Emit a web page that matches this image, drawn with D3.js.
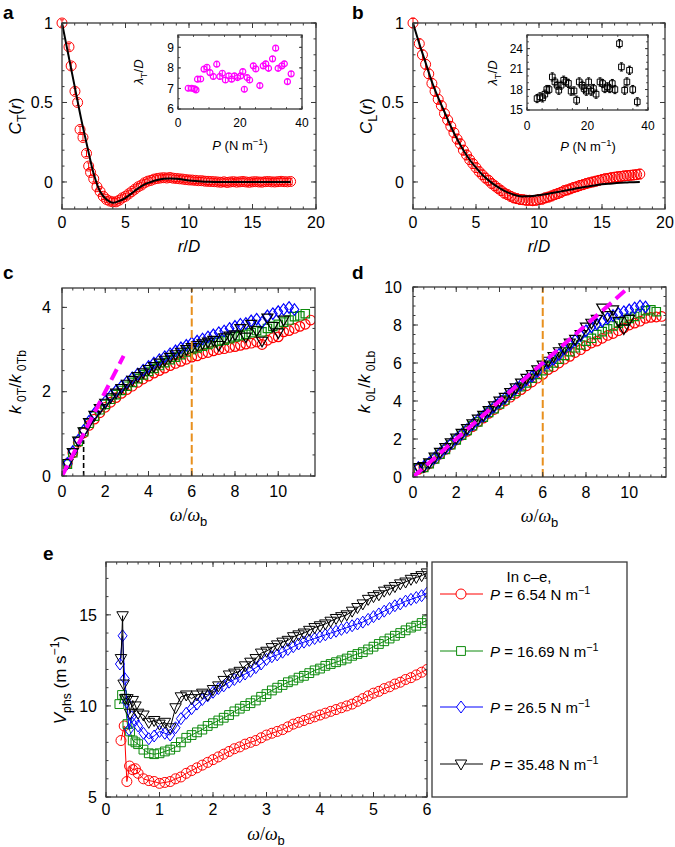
<!DOCTYPE html>
<html>
<head>
<meta charset="utf-8">
<script src="https://cdn.jsdelivr.net/npm/d3@7"></script>
<style>
  body { margin: 0; background: #fff; }
  svg { font-family: "Liberation Sans", Arial, Helvetica, sans-serif; }
</style>
</head>
<body>
<svg id="fig" width="675" height="847"></svg>
<script>
/* ── data ─────────────────────────────────────────────────── */
// panel a: C_T(r), first points irregular, then r = 2.25 … 18 every 0.25
const aHeadR = [0, 0.55, 0.72, 1.02, 1.23, 1.42, 1.65, 1.93, 2.1];
const aHeadC = [1.0, 0.85, 0.73, 0.57, 0.5, 0.33, 0.28, 0.18, 0.1];
const aTailC = [0.06, 0.02, -0.03, -0.06, -0.09, -0.11, -0.12, -0.125, -0.125, -0.115,
  -0.10, -0.09, -0.075, -0.06, -0.045, -0.03, -0.02, -0.005, 0.005, 0.01,
  0.018, 0.022, 0.025, 0.027, 0.025, 0.028, 0.024, 0.022, 0.02, 0.018,
  0.015, 0.013, 0.012, 0.01, 0.008, 0.008, 0.005, 0.004, 0.003, 0.002,
  0.0, -0.002, 0.001, -0.003, 0.0, 0.002, -0.001, 0.001, 0.003, 0.0,
  -0.002, 0.001, 0.002, 0.0, -0.001, 0.002, 0.003, 0.001, 0.0, 0.002,
  0.004, 0.002, 0.001, 0.003];
// fit, r = 0 … 18 every 0.5
const aFit = [1.0, 0.8, 0.6, 0.4, 0.22, 0.05, -0.06, -0.11, -0.13, -0.12, -0.1, -0.07,
  -0.04, -0.015, 0.0, 0.012, 0.02, 0.022, 0.02, 0.016, 0.01, 0.006, 0.003, 0.001,
  0, 0, 0, 0, 0, 0, 0, 0, 0, 0, 0, 0, 0];
const aErr = 0.02;

// panel b: C_L(r), r = 0 then 0.5 … 18 every 0.25
const bC = [1.0, 0.87, 0.8, 0.74, 0.68, 0.62, 0.57, 0.52, 0.48, 0.43, 0.39,
  0.35, 0.31, 0.27, 0.24, 0.2, 0.17, 0.14, 0.115, 0.09, 0.065,
  0.045, 0.025, 0.01, -0.01, -0.025, -0.04, -0.055, -0.07, -0.08, -0.09,
  -0.1, -0.105, -0.11, -0.112, -0.115, -0.115, -0.118, -0.115, -0.11, -0.108,
  -0.1, -0.095, -0.088, -0.08, -0.073, -0.065, -0.055, -0.05, -0.043, -0.035,
  -0.03, -0.022, -0.017, -0.01, -0.005, 0.0, 0.005, 0.01, 0.015, 0.02,
  0.023, 0.027, 0.03, 0.033, 0.035, 0.038, 0.04, 0.042, 0.044, 0.046, 0.05];
const bFit = [1.0, 0.87, 0.75, 0.63, 0.53, 0.44, 0.35, 0.27, 0.2, 0.14, 0.09, 0.045,
  0.01, -0.02, -0.045, -0.065, -0.08, -0.09, -0.09, -0.088, -0.083, -0.077, -0.07,
  -0.063, -0.055, -0.048, -0.04, -0.033, -0.027, -0.02, -0.015, -0.011, -0.008,
  -0.005, -0.003, -0.001, 0.0];
const bErr = 0.03;

// insets: λ/D against P (N m^-1)
const insAP = [3.3, 4.4, 5.3, 5.8, 6.3, 7.3, 8.4, 9.35, 10.3, 11.4, 12.5, 13.5, 14.3, 15.3,
  16.4, 17.3, 18.2, 19.2, 20.2, 20.9, 21.4, 22.3, 23.1, 24.3, 25.1, 26.4, 27.5, 28.3,
  29.2, 30.5, 31.5, 32.3, 33.5, 34.3, 35.3, 36.5];
const insAL = [7.01, 7.01, 6.98, 6.93, 7.45, 7.46, 7.94, 8.03, 7.77, 7.58, 8.18, 7.58, 7.74, 7.41,
  7.61, 7.45, 7.61, 7.53, 7.61, 7.82, 6.96, 7.53, 7.41, 8.1, 7.95, 7.14, 8.1, 8.2,
  7.98, 8.44, 8.96, 7.98, 8.1, 8.2, 7.33, 7.71];
const insBP = [3.32, 4.29, 5.15, 5.9, 6.54, 7.29, 8.36, 9.22, 9.97, 10.51, 11.26, 12.12, 12.87,
  13.7, 14.58, 15.55, 16.41, 17.27, 18.23, 18.87, 19.62, 20.38, 21.23, 21.98, 22.84, 24.13,
  24.99, 25.74, 26.6, 27.35, 28.2, 29.06, 30.56, 31.21, 32.28, 33.03, 33.89, 34.96, 36.46];
const insBL = [16.68, 16.93, 16.78, 17.32, 18.0, 18.0, 19.85, 19.12, 18.63, 17.9, 18.63, 19.37, 19.12,
  18.9, 17.76, 17.8, 16.44, 19.12, 18.63, 18.15, 17.76, 19.12, 17.76, 18.15, 17.32, 19.12,
  18.88, 18.15, 18.39, 18.15, 18.88, 18.0, 24.73, 21.32, 17.9, 19.12, 20.83, 18.0, 16.2];
const insAErr = 0.12, insBErr = 0.6;

// panels c, d: k/kb at ω/ωb = 0.25, 0.5, … (every 0.25)
const cRed = [0.3, 0.55, 0.8, 1.02, 1.2, 1.35, 1.5, 1.63, 1.75, 1.86, 1.96, 2.05, 2.13, 2.22, 2.3,
  2.37, 2.44, 2.5, 2.56, 2.62, 2.67, 2.72, 2.77, 2.82, 2.85, 2.9, 2.93, 2.97, 3.0, 3.02,
  3.05, 3.07, 3.1, 3.13, 3.15, 3.18, 3.12, 3.22, 3.28, 3.3, 3.42, 3.45, 3.5, 3.55, 3.6, 3.7];
const cGreen = [0.28, 0.55, 0.82, 1.05, 1.25, 1.42, 1.57, 1.7, 1.82, 1.93, 2.03, 2.13, 2.22, 2.31, 2.4,
  2.48, 2.55, 2.62, 2.69, 2.76, 2.82, 2.88, 2.94, 3.0, 3.04, 3.08, 3.12, 3.16, 3.2, 3.22,
  3.26, 3.3, 3.33, 3.36, 3.4, 3.45, 3.42, 3.5, 3.55, 3.6, 3.65, 3.7, 3.78, 3.8, 3.85];
const cBlue = [0.3, 0.58, 0.85, 1.08, 1.3, 1.48, 1.63, 1.77, 1.9, 2.02, 2.13, 2.23, 2.33, 2.42, 2.51,
  2.6, 2.68, 2.76, 2.83, 2.9, 2.97, 3.04, 3.1, 3.16, 3.2, 3.25, 3.3, 3.35, 3.4, 3.44,
  3.5, 3.55, 3.6, 3.62, 3.68, 3.72, 3.65, 3.8, 3.85, 3.9, 3.95, 4.0, 3.95];
const cBlack = [0.3, 0.56, 0.83, 1.05, 1.27, 1.44, 1.6, 1.73, 1.86, 1.97, 2.08, 2.18, 2.27, 2.36, 2.45,
  2.53, 2.6, 2.68, 2.75, 2.82, 2.88, 2.94, 3.0, 3.05, 3.1, 3.14, 3.18, 3.22, 3.1, 3.28,
  3.32, 3.35, 3.5, 3.3, 3.6, 3.45, 3.2, 3.75, 3.55, 3.4, 3.7];
const dRed = [0.4, 0.5, 0.7, 0.95, 1.2, 1.45, 1.7, 1.95, 2.2, 2.4, 2.65, 2.9, 3.1, 3.35, 3.55,
  3.8, 4.0, 4.2, 4.4, 4.6, 4.8, 5.0, 5.2, 5.4, 5.65, 5.8, 6.0, 6.2, 6.35, 6.55,
  6.7, 6.9, 7.05, 7.15, 7.3, 7.45, 7.55, 7.7, 7.85, 8.0, 8.1, 8.2, 8.35, 8.4, 8.42, 8.45];
const dGreen = [0.45, 0.5, 0.7, 0.95, 1.2, 1.45, 1.7, 1.95, 2.2, 2.45, 2.7, 2.9, 3.15, 3.4, 3.6,
  3.85, 4.05, 4.3, 4.5, 4.75, 4.95, 5.2, 5.4, 5.6, 5.8, 6.0, 6.2, 6.4, 6.6, 6.8,
  6.95, 7.15, 7.3, 7.5, 7.65, 7.8, 7.95, 8.1, 8.2, 8.35, 8.45, 8.6, 8.75, 8.8, 8.7];
const dBlue = [0.5, 0.55, 0.75, 1.0, 1.25, 1.5, 1.75, 2.0, 2.25, 2.5, 2.75, 3.0, 3.2, 3.45, 3.7,
  3.95, 4.15, 4.4, 4.65, 4.85, 5.1, 5.3, 5.55, 5.8, 6.0, 6.2, 6.45, 6.75, 6.95, 7.2,
  7.45, 7.7, 7.9, 8.05, 8.2, 8.35, 8.5, 8.6, 8.7, 8.8, 8.9, 9.0, 8.95];
const dBlack = [0.5, 0.55, 0.75, 1.05, 1.3, 1.55, 1.8, 2.05, 2.3, 2.55, 2.8, 3.05, 3.25, 3.5, 3.75,
  4.0, 4.2, 4.45, 4.7, 4.95, 5.2, 5.4, 5.65, 5.9, 6.1, 6.35, 6.6, 6.8, 7.05, 7.25,
  7.5, 7.9, 8.1, 8.3, 8.9, 8.5, 8.8, 8.2, 7.8, 8.3];
const cLine = [[0, 0], [2.85, 2.85]];
const dLine = [[0, 0], [10, 10]];

// panel e: V_phs, irregular first points [ω, V], then ω = 0.6 … 6.0 every 0.1
const eRedHead = [[0.28, 8.1], [0.34, 8.9], [0.39, 5.85], [0.44, 6.7], [0.5, 6.5], [0.55, 6.55]];
const eRedTail = [6.3, 6.0, 5.9, 5.85, 5.75, 5.8, 5.85, 6.0, 6.1, 6.3, 6.45, 6.6, 6.75, 6.9, 7.05,
  7.2, 7.35, 7.5, 7.65, 7.75, 7.9, 8.0, 8.1, 8.25, 8.4, 8.5, 8.6, 8.7, 8.85, 9.0,
  9.1, 9.2, 9.3, 9.4, 9.5, 9.6, 9.7, 9.8, 9.9, 10.0, 10.1, 10.25, 10.4, 10.55, 10.7,
  10.8, 10.95, 11.05, 11.2, 11.3, 11.45, 11.55, 11.7, 11.85, 12.0];
const eGreenHead = [[0.25, 10.1], [0.3, 10.6], [0.35, 10.4], [0.4, 9.0], [0.45, 8.6], [0.5, 8.1], [0.55, 8.0]];
const eGreenTail = [7.9, 7.6, 7.4, 7.35, 7.4, 7.5, 7.6, 7.75, 8.0, 8.25, 8.4, 8.55, 8.7, 8.9, 9.05,
  9.2, 9.35, 9.5, 9.7, 9.85, 10.0, 10.15, 10.3, 10.5, 10.65, 10.85, 11.0, 11.15, 11.3, 11.4,
  11.55, 11.65, 11.8, 11.95, 12.05, 12.2, 12.3, 12.4, 12.5, 12.6, 12.75, 12.85, 12.95, 13.1, 13.25,
  13.4, 13.55, 13.7, 13.85, 14.0, 14.15, 14.3, 14.4, 14.55, 14.7];
const eBlueHead = [[0.26, 12.3], [0.31, 13.85], [0.35, 11.5], [0.39, 10.2], [0.43, 8.7], [0.48, 9.4], [0.54, 9.2]];
const eBlueTail = [8.9, 8.5, 8.2, 8.35, 8.6, 8.5, 8.4, 8.8, 9.3, 9.6, 9.85, 10.1, 10.35, 10.55, 10.75,
  10.95, 11.1, 11.3, 11.45, 11.6, 11.75, 11.9, 12.1, 12.3, 12.55, 12.7, 12.8, 12.95, 13.1, 13.25,
  13.4, 13.5, 13.6, 13.7, 13.8, 13.9, 14.0, 14.1, 14.2, 14.3, 14.4, 14.5, 14.6, 14.75, 14.9,
  15.05, 15.2, 15.35, 15.5, 15.6, 15.75, 15.85, 15.95, 16.05, 16.2];
const eBlackHead = [[0.28, 12.6], [0.31, 14.95], [0.33, 11.2], [0.36, 10.4], [0.4, 10.4], [0.45, 9.6], [0.5, 10.3], [0.55, 10.0]];
const eBlackTail = [9.6, 9.5, 9.1, 9.2, 9.0, 9.1, 8.8, 9.9, 10.5, 10.6, 10.4, 10.6, 10.7, 10.6, 10.9,
  11.1, 11.4, 11.7, 11.8, 11.9, 12.2, 12.4, 12.6, 12.9, 13.0, 13.2, 13.35, 13.5, 13.6, 13.8,
  13.9, 14.0, 14.15, 14.3, 14.4, 14.5, 14.65, 14.8, 14.9, 15.0, 15.2, 15.4, 15.6, 15.85, 16.0,
  16.1, 16.3, 16.4, 16.55, 16.7, 16.8, 16.95, 17.05, 17.15, 17.3];

const legendP = ["6.54", "16.69", "26.5", "35.48"];

/* ── styling ──────────────────────────────────────────────── */
const RED = "#ff0000", GREEN = "#0c8a0c", BLUE = "#0000ff", BLACK = "#000000";
const MAGENTA = "#ff00ff", ORANGE = "#e8901e", FRAME = "#3a3a3a";
const SERIF = '"Liberation Serif", "Times New Roman", serif';
const series = [
  { color: RED, shape: "circle" },
  { color: GREEN, shape: "square" },
  { color: BLUE, shape: "diamond" },
  { color: BLACK, shape: "tri" }
];

const svg = d3.select("#fig");

const shapes = {
  circle: r => `M${r},0A${r},${r} 0 1,1 ${-r},0A${r},${r} 0 1,1 ${r},0Z`,
  square: r => `M${-r},${-r}H${r}V${r}H${-r}Z`,
  diamond: r => `M0,${-r * 1.2}L${r * 0.9},0L0,${r * 1.2}L${-r * 0.9},0Z`,
  tri: r => `M${-r * 1.15},${-r * 0.8}H${r * 1.15}L0,${r * 1.2}Z`
};

function panel(box, xd, yd) {
  return {
    box,
    x: d3.scaleLinear().domain(xd).range([box.l, box.r]),
    y: d3.scaleLinear().domain(yd).range([box.b, box.t])
  };
}

function stepVals(dom, step) {
  const a = Math.ceil(dom[0] / step - 1e-6), b = Math.floor(dom[1] / step + 1e-6);
  return d3.range(a, b + 1).map(i => +(i * step).toFixed(6));
}

// inward ticks on all four sides + frame + labels
function frame(g, p, o) {
  const { l, r, t, b } = p.box;
  const big = o.big || 5, small = o.small || 2.5;
  const tk = g.append("g").attr("stroke", FRAME).attr("stroke-width", 1);
  const xs = [...o.xMaj.map(v => [v, big]), ...stepVals(p.x.domain(), o.xMin).map(v => [v, small])];
  const ys = [...o.yMaj.map(v => [v, big]), ...stepVals(p.y.domain(), o.yMin).map(v => [v, small])];
  xs.forEach(([v, len]) => {
    const X = p.x(v);
    tk.append("line").attr("x1", X).attr("x2", X).attr("y1", b).attr("y2", b - len);
    tk.append("line").attr("x1", X).attr("x2", X).attr("y1", t).attr("y2", t + len);
  });
  ys.forEach(([v, len]) => {
    const Y = p.y(v);
    tk.append("line").attr("y1", Y).attr("y2", Y).attr("x1", l).attr("x2", l + len);
    tk.append("line").attr("y1", Y).attr("y2", Y).attr("x1", r).attr("x2", r - len);
  });
  g.append("rect").attr("x", l).attr("y", t).attr("width", r - l).attr("height", b - t)
    .attr("fill", "none").attr("stroke", FRAME).attr("stroke-width", 1.3);
  const fs = o.fs || 16;
  g.append("g").selectAll("text").data(o.xMaj).join("text")
    .attr("x", d => p.x(d)).attr("y", b + o.xOff).attr("text-anchor", "middle")
    .style("font-size", fs + "px").text(o.xFmt || (d => d));
  g.append("g").selectAll("text").data(o.yMaj).join("text")
    .attr("x", l - o.yOff).attr("y", d => p.y(d)).attr("dy", "0.36em").attr("text-anchor", "end")
    .style("font-size", fs + "px").text(o.yFmt || (d => d));
}

function clipFor(id, p) {
  const { l, r, t, b } = p.box;
  svg.append("clipPath").attr("id", id).append("rect")
    .attr("x", l).attr("y", t).attr("width", r - l).attr("height", b - t);
  return `url(#${id})`;
}

function markers(g, pts, p, shape, size, color, sw) {
  g.append("g").selectAll("path").data(pts).join("path")
    .attr("d", shapes[shape](size))
    .attr("transform", d => `translate(${p.x(d[0])},${p.y(d[1])})`)
    .attr("fill", "none").attr("stroke", color).attr("stroke-width", sw || 1);
}

function errorBars(g, pts, p, err, color, cap) {
  const eb = g.append("g").attr("stroke", color).attr("stroke-width", 1);
  pts.forEach(d => {
    const X = p.x(d[0]), y1 = p.y(d[1] - err), y2 = p.y(d[1] + err);
    eb.append("line").attr("x1", X).attr("x2", X).attr("y1", y1).attr("y2", y2);
    eb.append("line").attr("x1", X - cap).attr("x2", X + cap).attr("y1", y1).attr("y2", y1);
    eb.append("line").attr("x1", X - cap).attr("x2", X + cap).attr("y1", y2).attr("y2", y2);
  });
}

// rich text: parts = [[text, {italic, sub, sup, serif}]]
function rich(g, x, y, parts, fs, opts) {
  const t = g.append("text").attr("x", x).attr("y", y).style("font-size", fs + "px")
    .attr("text-anchor", (opts && opts.anchor) || "middle");
  if (opts && opts.rotate) t.attr("transform", `rotate(-90,${x},${y})`);
  let shift = 0;
  parts.forEach(([s, f]) => {
    f = f || {};
    const target = f.sub ? fs * 0.3 : f.sup ? -fs * 0.4 : 0;
    const ts = t.append("tspan").text(s).attr("dy", target - shift);
    shift = target;
    if (f.italic) ts.style("font-style", "italic");
    if (f.serif) ts.style("font-family", SERIF);
    if (f.sub || f.sup) ts.style("font-size", (fs * 0.72) + "px");
  });
  return t;
}

function panelLetter(x, y, s) {
  svg.append("text").attr("x", x).attr("y", y).style("font-size", "19px")
    .style("font-weight", "bold").text(s);
}

const omegaLabel = [["ω", { italic: true, serif: true }], ["/", { serif: true }], ["ω", { italic: true, serif: true }], ["b", { sub: true }]];
const lineGen = (p) => d3.line().x(d => p.x(d[0])).y(d => p.y(d[1]));

/* ── panel a ──────────────────────────────────────────────── */
{
  const p = panel({ l: 62, r: 316, t: 23, b: 209 }, [0, 20], [-0.17, 1]);
  const g = svg.append("g");
  const pts = aHeadR.map((r, i) => [r, aHeadC[i]])
    .concat(aTailC.map((c, i) => [2.25 + 0.25 * i, c]));
  const fit = aFit.map((c, i) => [0.5 * i, c]);
  errorBars(g, pts, p, aErr, RED, 2);
  markers(g, pts, p, "circle", 5, RED, 1);
  g.append("path").datum(fit).attr("d", lineGen(p).curve(d3.curveCatmullRom))
    .attr("fill", "none").attr("stroke", BLACK).attr("stroke-width", 2);
  frame(g, p, { xMaj: [0, 5, 10, 15, 20], xMin: 1, yMaj: [0, 0.5, 1], yMin: 0.1, xOff: 19, yOff: 9 });
  rich(g, 21, 116, [["C", { italic: true }], ["T", { sub: true }], ["("], ["r", { italic: true }], [")"]], 17, { rotate: true });
  rich(g, 189, 252, [["r", { italic: true }], ["/"], ["D", { italic: true }]], 17);

  // inset
  const q = panel({ l: 178, r: 302, t: 35, b: 109 }, [0, 40], [6, 9.6]);
  const gi = g.append("g");
  gi.append("rect").attr("x", 178).attr("y", 35).attr("width", 124).attr("height", 74).attr("fill", "#fff");
  const ip = insAP.map((v, i) => [v, insAL[i]]);
  errorBars(gi, ip, q, insAErr, MAGENTA, 1.5);
  markers(gi, ip, q, "circle", 3, MAGENTA, 1.2);
  frame(gi, q, { xMaj: [0, 20, 40], xMin: 5, yMaj: [6, 7, 8, 9], yMin: 0.5, xOff: 18, yOff: 4, fs: 12, big: 3, small: 1.8 });
  rich(gi, 143, 72, [["λ", { italic: true }], ["T", { sub: true }], ["/"], ["D", { italic: true }]], 13, { rotate: true });
  rich(gi, 240, 150, [["P", { italic: true }], [" (N m"], ["−1", { sup: true }], [")"]], 13);
}
panelLetter(3, 19, "a");

/* ── panel b ──────────────────────────────────────────────── */
{
  const p = panel({ l: 413, r: 665, t: 23, b: 209 }, [0, 20], [-0.17, 1]);
  const g = svg.append("g");
  const pts = bC.map((c, i) => [i === 0 ? 0 : 0.25 + 0.25 * i, c]);
  const fit = bFit.map((c, i) => [0.5 * i, c]);
  errorBars(g, pts, p, bErr, RED, 2);
  markers(g, pts, p, "circle", 5, RED, 1);
  g.append("path").datum(fit).attr("d", lineGen(p).curve(d3.curveCatmullRom))
    .attr("fill", "none").attr("stroke", BLACK).attr("stroke-width", 2);
  frame(g, p, { xMaj: [0, 5, 10, 15, 20], xMin: 1, yMaj: [0, 0.5, 1], yMin: 0.1, xOff: 19, yOff: 9 });
  rich(g, 372, 116, [["C", { italic: true }], ["L", { sub: true }], ["("], ["r", { italic: true }], [")"]], 17, { rotate: true });
  rich(g, 539, 252, [["r", { italic: true }], ["/"], ["D", { italic: true }]], 17);

  const q = panel({ l: 527, r: 648, t: 35, b: 110 }, [0, 40], [15, 26]);
  const gi = g.append("g");
  gi.append("rect").attr("x", 527).attr("y", 35).attr("width", 121).attr("height", 75).attr("fill", "#fff");
  const ip = insBP.map((v, i) => [v, insBL[i]]);
  errorBars(gi, ip, q, insBErr, BLACK, 1.5);
  markers(gi, ip, q, "square", 2.8, BLACK, 1);
  frame(gi, q, { xMaj: [0, 20, 40], xMin: 5, yMaj: [15, 18, 21, 24], yMin: 1, xOff: 20, yOff: 4, fs: 12, big: 3, small: 1.8 });
  rich(gi, 497, 73, [["λ", { italic: true }], ["T", { sub: true }], ["/"], ["D", { italic: true }]], 13, { rotate: true });
  rich(gi, 588, 151, [["P", { italic: true }], [" (N m"], ["−1", { sup: true }], [")"]], 13);
}
panelLetter(352, 19, "b");

/* ── panels c, d ──────────────────────────────────────────── */
function kPanel(box, yd, data, refLine, extra, yMaj, yLab, labX) {
  const p = panel(box, [0, 11.7], yd);
  const g = svg.append("g");
  const gd = g.append("g").attr("clip-path", clipFor("clip" + box.l + box.t, p));
  data.forEach((vals, s) => {
    const pts = vals.map((v, i) => [0.25 * (i + 1), v]);
    const sz = series[s].shape === "square" ? 4.2 : 4.8;
    markers(gd, pts, p, series[s].shape, sz, series[s].color, 1.2);
  });
  gd.append("line").attr("x1", p.x(6)).attr("x2", p.x(6)).attr("y1", box.b).attr("y2", box.t)
    .attr("stroke", ORANGE).attr("stroke-width", 2).attr("stroke-dasharray", "8,3.5");
  if (extra) extra(gd, p);
  gd.append("path").datum(refLine).attr("d", lineGen(p))
    .attr("stroke", MAGENTA).attr("stroke-width", 4).attr("stroke-dasharray", "12,6");
  frame(g, p, { xMaj: [0, 2, 4, 6, 8, 10], xMin: 0.5, yMaj: yMaj, yMin: 0.5, xOff: 21, yOff: 11 });
  rich(g, labX, (box.t + box.b) / 2, yLab, 17, { rotate: true });
  rich(g, (box.l + box.r) / 2, box.b + 45, omegaLabel, 18);
}
kPanel({ l: 62, r: 315, t: 288, b: 476 }, [0, 4.46], [cRed, cGreen, cBlue, cBlack], cLine,
  (g, p) => g.append("line").attr("x1", p.x(1)).attr("x2", p.x(1)).attr("y1", p.y(0)).attr("y2", p.y(0.85))
    .attr("stroke", BLACK).attr("stroke-width", 1.6).attr("stroke-dasharray", "5,3"),
  [0, 2, 4], [["k", { italic: true }], [" 0T", { sub: true }], ["/"], ["k", { italic: true }], [" 0Tb", { sub: true }]], 21);
kPanel({ l: 413, r: 666, t: 287, b: 477 }, [0, 10], [dRed, dGreen, dBlue, dBlack], dLine, null,
  [0, 2, 4, 6, 8, 10], [["k", { italic: true }], [" 0L", { sub: true }], ["/"], ["k", { italic: true }], [" 0Lb", { sub: true }]], 370);
panelLetter(3, 279, "c");
panelLetter(352, 279, "d");

/* ── panel e ──────────────────────────────────────────────── */
{
  const p = panel({ l: 106, r: 427, t: 562, b: 797 }, [0, 6], [5, 17.9]);
  const g = svg.append("g");
  const gd = g.append("g").attr("clip-path", clipFor("clipE", p));
  const all = [[eRedHead, eRedTail], [eGreenHead, eGreenTail], [eBlueHead, eBlueTail], [eBlackHead, eBlackTail]];
  all.forEach(([head, tail], s) => {
    const pts = head.concat(tail.map((v, i) => [0.6 + 0.1 * i, v]));
    gd.append("path").datum(pts).attr("d", lineGen(p)).attr("fill", "none")
      .attr("stroke", series[s].color).attr("stroke-width", 1);
    const sz = series[s].shape === "square" ? 4.4 : 5;
    markers(gd, pts, p, series[s].shape, sz, series[s].color, 1);
  });
  frame(g, p, { xMaj: [0, 1, 2, 3, 4, 5, 6], xMin: 0.2, yMaj: [5, 10, 15], yMin: 1, xOff: 18, yOff: 9 });
  rich(g, 66, 680, [["V", { italic: true }], ["phs", { sub: true }], [" (m s"], ["−1", { sup: true }], [")"]], 17, { rotate: true });
  rich(g, 266, 840, omegaLabel, 18);

  // legend
  const lg = svg.append("g");
  lg.append("rect").attr("x", 432).attr("y", 562).attr("width", 195).attr("height", 235)
    .attr("fill", "none").attr("stroke", FRAME).attr("stroke-width", 1.3);
  lg.append("text").attr("x", 529).attr("y", 582).attr("text-anchor", "middle")
    .style("font-size", "15px").text("In c–e,");
  const rowY = [594, 651, 707, 764];
  legendP.forEach((v, i) => {
    const y = rowY[i];
    lg.append("line").attr("x1", 440).attr("x2", 483).attr("y1", y).attr("y2", y)
      .attr("stroke", series[i].color).attr("stroke-width", 1);
    lg.append("path").attr("d", shapes[series[i].shape](series[i].shape === "square" ? 4.4 : 5))
      .attr("transform", `translate(461,${y})`).attr("fill", "#fff")
      .attr("stroke", series[i].color).attr("stroke-width", 1);
    rich(lg, 490, y + 6, [["P", { italic: true }], [" = " + v + " N m"], ["−1", { sup: true }]], 15, { anchor: "start" });
  });
}
panelLetter(43, 560, "e");
</script>
</body>
</html>
